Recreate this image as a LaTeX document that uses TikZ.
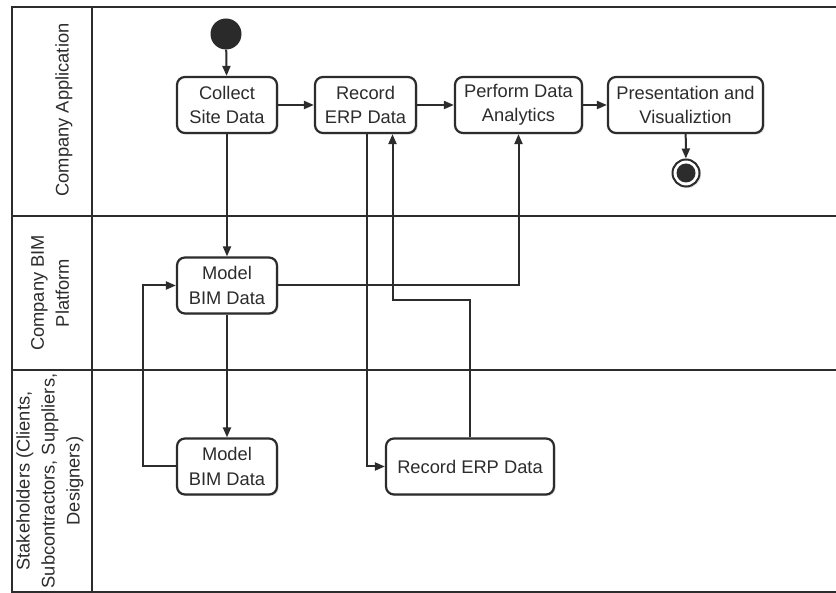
\documentclass[tikz,border=0pt]{standalone}
\usepackage{fontspec}
\setmainfont{Liberation Sans}
\usetikzlibrary{arrows.meta,shadows}
\definecolor{ink}{HTML}{2C2C2C}
\begin{document}
\begin{tikzpicture}[x=1pt,y=-1pt,
  every node/.style={text=ink},
  act/.style={draw=ink, line width=2.2pt, rounded corners=8pt, fill=white, align=center,
    minimum height=56pt, inner sep=0pt, font=\fontsize{18.3}{24.5}\selectfont,
    drop shadow={opacity=0.25, shadow xshift=1.5pt, shadow yshift=-1.5pt}},
  lane/.style={rotate=90, align=center, font=\fontsize{18.3}{25}\selectfont},
  frame/.style={draw=ink, line width=2.4pt},
  arr/.style={draw=ink, line width=2pt, -{Triangle[length=10pt,width=8pt]}},
  ln/.style={draw=ink, line width=2pt}]
\useasboundingbox (0,0) rectangle (836,593);
\fill[white] (0,0) rectangle (836,593);
% frame
\draw[frame] (836,7) -- (12,7) -- (12,592) -- (836,592);
\draw[frame] (92,7) -- (92,592);
\draw[frame] (12,216) -- (836,216);
\draw[frame] (12,370) -- (836,370);
% lane labels
\node[lane] (l1) at (64,110) {Company Application};
\node[lane] (l2) at (50,293) {Company BIM\\Platform};
\node[lane] (l3) at (50,481) {Stakeholders (Clients,\\Subcontractors, Suppliers,\\Designers)};
% initial / final
\node[circle, fill=ink!95!black, minimum size=31pt, inner sep=0pt] (start) at (226,34) {};
\node[act, minimum width=100pt] (collect) at (227,105) {Collect\\Site Data};
\node[act, minimum width=101pt] (rec1) at (365.5,105) {Record\\ERP Data};
\node[act, minimum width=127pt] (perf) at (518.5,105) {Perform Data\\Analytics};
\node[act, minimum width=155pt] (pres) at (685.5,105) {Presentation and\\Visualiztion};
\node[circle, draw=ink, line width=2pt, fill=white, minimum size=27pt, inner sep=0pt,
  drop shadow={opacity=0.25, shadow xshift=1.5pt, shadow yshift=-1.5pt}] (end) at (686,173) {};
\fill[ink] (end.center) circle (9.5pt);
\node[act, minimum width=100pt] (bim1) at (227,285.5) {Model\\BIM Data};
\node[act, minimum width=100pt] (bim2) at (227,466.5) {Model\\BIM Data};
\node[act, minimum width=168pt] (rec2) at (470,466.5) {Record ERP Data};
% connectors
\draw[arr] (start) -- (collect);
\draw[arr] (collect) -- (rec1);
\draw[arr] (rec1) -- (perf);
\draw[arr] (perf) -- (pres);
\draw[arr] (pres) -- (end);
\draw[arr] (collect) -- (bim1);
\draw[arr] (bim1) -- (bim2);
\coordinate (lp) at (143,466.5);
\draw[arr] (bim2.west) -- (lp) |- (bim1.west);
\draw[arr] (bim1.east) -| (perf.south);
\draw[arr] ([xshift=1.5pt]rec1.south) |- (rec2.west);
\coordinate (kk) at (470,300);
\draw[arr] (rec2.north) -- (kk) -| ([xshift=27pt]rec1.south);
\end{tikzpicture}
\end{document}
